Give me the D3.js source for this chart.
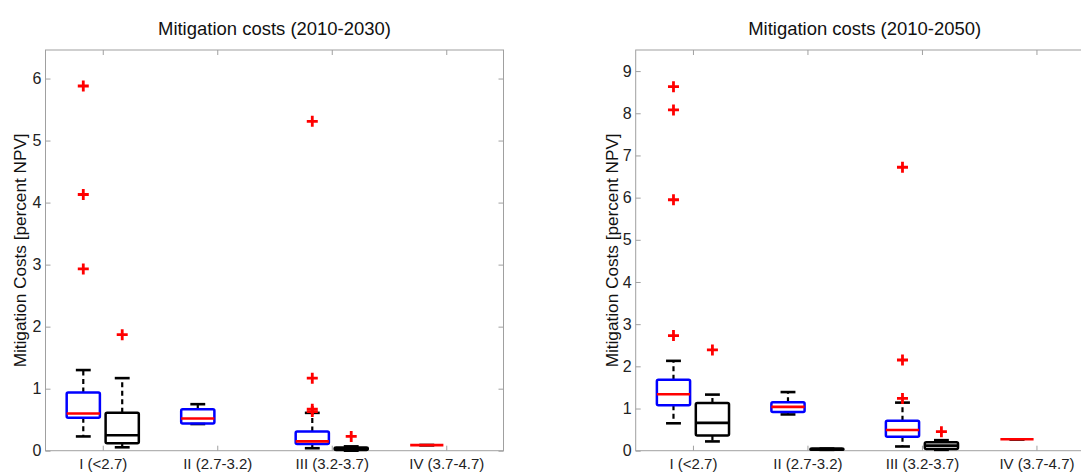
<!DOCTYPE html>
<html lang="en">
<head>
<meta charset="utf-8">
<title>Mitigation costs</title>
<script src="https://cdn.jsdelivr.net/npm/d3@7"></script>
<style>
    body { margin: 0; background: #fff; }
    svg { display: block; font-family: Arial, "Liberation Sans", sans-serif; }
    .frame { fill: none; stroke: #a0a0a0; stroke-width: 1; }
    .tick line { stroke: #a0a0a0; }
    .tick text { fill: #222; }
</style>
</head>
<body>
<script>
// categories on the x axis
const categories = ["I (<2.7)", "II (2.7-3.2)", "III (3.2-3.7)", "IV (3.7-4.7)"];
const catPos = [1, 2, 3, 4];

const ticks2030 = [0, 1, 2, 3, 4, 5, 6];
const ticks2050 = [0, 1, 2, 3, 4, 5, 6, 7, 8, 9];

// box stats: [whiskerLow, q1, median, q3, whiskerHigh], null = no box
const blue2030 = [[0.23, 0.53, 0.60, 0.94, 1.30], [0.43, 0.44, 0.52, 0.67, 0.75], [0.04, 0.11, 0.15, 0.31, 0.61], [0.09, 0.09, 0.09, 0.09, 0.09]];
const blueOut2030 = [[5.88, 4.13, 2.93], [], [5.31, 1.17, 0.67, 0.63], []];
const black2030 = [[0.055, 0.12, 0.25, 0.61, 1.17], null, [0.0, 0.01, 0.03, 0.05, 0.07], null];
const blackOut2030 = [[1.87], [], [0.23], []];

const blue2050 = [[0.65, 1.08, 1.34, 1.68, 2.13], [0.86, 0.92, 1.04, 1.15, 1.39], [0.10, 0.33, 0.49, 0.71, 1.14], [0.27, 0.27, 0.27, 0.27, 0.27]];
const blueOut2050 = [[8.63, 8.08, 5.95, 2.73], [], [6.72, 2.15, 1.24], []];
const black2050 = [[0.22, 0.36, 0.66, 1.13, 1.33], [0.02, 0.02, 0.03, 0.05, 0.05], [0.02, 0.04, 0.12, 0.20, 0.25], null];
const blackOut2050 = [[2.39], [], [0.45], []];

const W = 1081, H = 474;
const plotW = 458, plotTop = 50, plotBottom = 450.7;

const svg = d3.select("body").append("svg")
    .attr("width", W)
    .attr("height", H);
svg.append("rect").attr("width", W).attr("height", H).attr("fill", "#fff");

function drawPanel(left, title, ymax, yTicks, blue, blueOut, black, blackOut, labelX) {
    const h = plotBottom - plotTop;
    const x = d3.scaleLinear().domain([0.5, 4.5]).range([0, plotW]);
    const y = d3.scaleLinear().domain([0, ymax]).range([h, 0]);
    const g = svg.append("g").attr("transform", "translate(" + left + "," + plotTop + ")");

    // axes, MATLAB style: ticks pointing inward, box around
    g.append("g")
        .attr("transform", "translate(0," + h + ")")
        .call(d3.axisBottom(x).tickValues(catPos).tickFormat((d, i) => categories[i]).tickSizeInner(-5).tickSizeOuter(0).tickPadding(8))
        .call(a => a.select(".domain").remove())
        .call(a => a.selectAll("text").attr("font-size", 15));
    g.append("g")
        .call(d3.axisTop(x).tickValues(catPos).tickFormat("").tickSizeInner(-5).tickSizeOuter(0))
        .call(a => a.select(".domain").remove());
    g.append("g")
        .call(d3.axisLeft(y).tickValues(yTicks).tickFormat(d3.format("d")).tickSizeInner(-5).tickSizeOuter(0).tickPadding(4))
        .call(a => a.select(".domain").remove())
        .call(a => a.selectAll("text").attr("font-size", 16));
    g.append("g")
        .attr("transform", "translate(" + plotW + ",0)")
        .call(d3.axisRight(y).tickValues(yTicks).tickFormat("").tickSizeInner(-5).tickSizeOuter(0))
        .call(a => a.select(".domain").remove());
    g.append("rect").attr("class", "frame")
        .attr("x", 0).attr("y", 0).attr("width", plotW).attr("height", h);

    // title
    svg.append("text")
        .attr("x", left + plotW / 2)
        .attr("y", 35)
        .attr("text-anchor", "middle")
        .attr("font-size", 19)
        .attr("textLength", 233)
        .attr("lengthAdjust", "spacingAndGlyphs")
        .attr("fill", "#111")
        .text(title);

    // y label
    svg.append("text")
        .attr("transform", "translate(" + labelX + "," + ((plotTop + plotBottom) / 2) + ") rotate(-90)")
        .attr("text-anchor", "middle")
        .attr("font-size", 16.5)
        .attr("textLength", 234)
        .attr("lengthAdjust", "spacingAndGlyphs")
        .attr("fill", "#111")
        .text("Mitigation Costs [percent NPV]");

    const halfBox = 0.145, halfCap = 0.065;

    function boxes(stats, outs, offset, boxColor, medColor) {
        stats.forEach(function(s, i) {
            if (!s) return;
            const c = catPos[i] + offset;
            const bg = g.append("g");
            // whiskers
            bg.append("line")
                .attr("x1", x(c)).attr("x2", x(c))
                .attr("y1", y(s[3])).attr("y2", y(s[4]))
                .attr("stroke", "#000").attr("stroke-width", 2.2).attr("stroke-dasharray", "5,3.5");
            bg.append("line")
                .attr("x1", x(c)).attr("x2", x(c))
                .attr("y1", y(s[1])).attr("y2", y(s[0]))
                .attr("stroke", "#000").attr("stroke-width", 2.2).attr("stroke-dasharray", "5,3.5");
            [s[0], s[4]].forEach(function(v) {
                bg.append("line")
                    .attr("x1", x(c - halfCap)).attr("x2", x(c + halfCap))
                    .attr("y1", y(v)).attr("y2", y(v))
                    .attr("stroke", "#000").attr("stroke-width", 2.6);
            });
            // box
            bg.append("rect")
                .attr("x", x(c - halfBox))
                .attr("y", y(s[3]))
                .attr("width", x(c + halfBox) - x(c - halfBox))
                .attr("height", Math.max(0, y(s[1]) - y(s[3])))
                .attr("fill", "none")
                .attr("stroke", boxColor)
                .attr("stroke-width", 2.5)
                .attr("rx", 1.5);
            // median
            bg.append("line")
                .attr("x1", x(c - halfBox)).attr("x2", x(c + halfBox))
                .attr("y1", y(s[2])).attr("y2", y(s[2]))
                .attr("stroke", medColor).attr("stroke-width", 2.6);
        });
        outs.forEach(function(list, i) {
            const c = catPos[i] + offset;
            g.selectAll(null)
                .data(list)
                .enter().append("path")
                .attr("d", d => "M" + (x(c) - 5.5) + "," + y(d) + "h11M" + x(c) + "," + (y(d) - 5.5) + "v11")
                .attr("stroke", "#ff0000")
                .attr("stroke-width", 2.8)
                .attr("fill", "none");
        });
    }

    boxes(blue, blueOut, -0.17, "#0000ff", "#ff0000");
    boxes(black, blackOut, 0.17, "#000", "#000");
}

drawPanel(45.5, "Mitigation costs (2010-2030)", 6.46, ticks2030, blue2030, blueOut2030, black2030, blackOut2030, 26);
drawPanel(635.7, "Mitigation costs (2010-2050)", 9.5, ticks2050, blue2050, blueOut2050, black2050, blackOut2050, 618);
</script>
</body>
</html>
